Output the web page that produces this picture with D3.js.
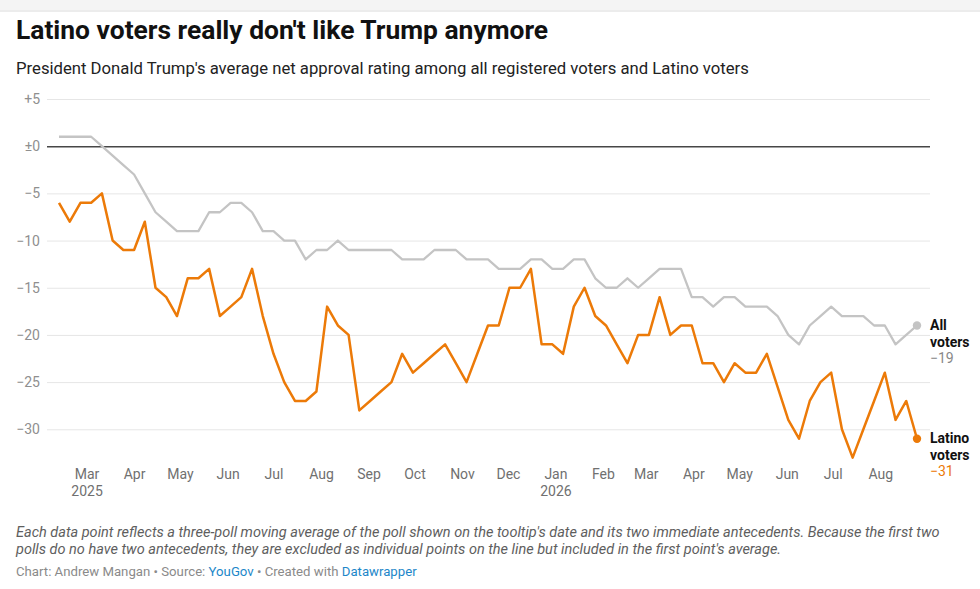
<!DOCTYPE html>
<html>
<head>
<meta charset="utf-8">
<script src="https://cdn.jsdelivr.net/npm/d3@7"></script>
<style>
    body { margin: 0; background: #fff; font-family: Roboto, "Noto Sans", sans-serif; }
</style>
</head>
<body>
<svg id="chart"></svg>
<script>
// Poll dates (weekly YouGov polls)
const pollDates = [
    "2025-02-11","2025-02-18","2025-02-25","2025-03-04","2025-03-11","2025-03-18","2025-03-25",
    "2025-04-01","2025-04-08","2025-04-15","2025-04-22","2025-04-29","2025-05-06","2025-05-13",
    "2025-05-20","2025-05-27","2025-06-03","2025-06-10","2025-06-17","2025-06-24","2025-07-01",
    "2025-07-08","2025-07-15","2025-07-22","2025-07-29","2025-08-05","2025-08-12","2025-08-19",
    "2025-08-26","2025-09-02","2025-09-09","2025-09-16","2025-09-23","2025-09-30","2025-10-07",
    "2025-10-14","2025-10-21","2025-10-28","2025-11-04","2025-11-11","2025-11-18","2025-11-25",
    "2025-12-02","2025-12-09","2025-12-16","2025-12-23","2025-12-30","2026-01-06","2026-01-13",
    "2026-01-20","2026-01-27","2026-02-03","2026-02-10","2026-02-17","2026-02-24","2026-03-03",
    "2026-03-10","2026-03-17","2026-03-24","2026-03-31","2026-04-07","2026-04-14","2026-04-21",
    "2026-04-28","2026-05-05","2026-05-12","2026-05-19","2026-05-26","2026-06-02","2026-06-09",
    "2026-06-16","2026-06-23","2026-06-30","2026-07-07","2026-07-14","2026-07-21","2026-07-28",
    "2026-08-04","2026-08-11","2026-08-18","2026-08-25"
];

const allVoters = [
    1, 1, 1, 1, 0, -1, -2, -3, -5, -7,
    -8, -9, -9, -9, -7, -7, -6, -6, -7, -9,
    -9, -10, -10, -12, -11, -11, -10, -11, -11, -11,
    -11, -11, -12, -12, -12, -11, -11, -11, -12, -12,
    -12, -13, -13, -13, -12, -12, -13, -13, -12, -12,
    -14, -15, -15, -14, -15, -14, -13, -13, -13, -16,
    -16, -17, -16, -16, -17, -17, -17, -18, -20, -21,
    -19, -18, -17, -18, -18, -18, -19, -19, -21, -20,
    -19
];

const latinoVoters = [
    -6, -8, -6, -6, -5, -10, -11, -11, -8, -15,
    -16, -18, -14, -14, -13, -18, -17, -16, -13, -18,
    -22, -25, -27, -27, -26, -17, -19, -20, -28, -27,
    -26, -25, -22, -24, -23, -22, -21, -23, -25, -22,
    -19, -19, -15, -15, -13, -21, -21, -22, -17, -15,
    -18, -19, -21, -23, -20, -20, -16, -20, -19, -19,
    -23, -23, -25, -23, -24, -24, -22, -25.5, -29, -31,
    -27, -25, -24, -30, -33, -30, -27, -24, -29, -27,
    -31
];

const yTicks = [5, 0, -5, -10, -15, -20, -25, -30];

const monthTicks = [
    "2025-03-01","2025-04-01","2025-05-01","2025-06-01","2025-07-01","2025-08-01",
    "2025-09-01","2025-10-01","2025-11-01","2025-12-01","2026-01-01","2026-02-01",
    "2026-03-01","2026-04-01","2026-05-01","2026-06-01","2026-07-01","2026-08-01"
];

const width = 980;
const height = 589;
const orange = "#ec7a08";
const grey = "#c4c4c4";

const parse = d3.utcParse("%Y-%m-%d");

const svg = d3.select("#chart")
    .attr("width", width)
    .attr("height", height)
    .style("display", "block");

// top shadow band
svg.append("rect")
    .attr("x", 0).attr("y", 0)
    .attr("width", width).attr("height", 11)
    .attr("fill", "#f4f4f4");
svg.append("rect")
    .attr("x", 0).attr("y", 10)
    .attr("width", width).attr("height", 2)
    .attr("fill", "#ececec");

// Title & subtitle
svg.append("text")
    .attr("x", 16).attr("y", 39)
    .attr("font-size", 26.4)
    .attr("font-weight", 700)
    .attr("fill", "#111")
    .text("Latino voters really don't like Trump anymore");

svg.append("text")
    .attr("x", 16).attr("y", 74)
    .attr("font-size", 16.7)
    .attr("fill", "#222")
    .text("President Donald Trump's average net approval rating among all registered voters and Latino voters");

// Scales
const dates = pollDates.map(parse);

const x = d3.scaleUtc()
    .domain(d3.extent(dates))
    .range([59, 917]);

const y = d3.scaleLinear()
    .domain([5, -30])
    .range([99, 429.3]);

const fmtY = v => v > 0 ? "+" + v : v === 0 ? "\u00b10" : "\u2212" + Math.abs(v);

// Y axis with gridlines
const yAxis = svg.append("g")
    .attr("transform", "translate(47,0)")
    .call(d3.axisLeft(y)
        .tickValues(yTicks)
        .tickSize(-883)
        .tickPadding(7)
        .tickFormat(fmtY));

yAxis.select(".domain").remove();
yAxis.selectAll(".tick line")
    .attr("stroke", d => d === 0 ? "#474747" : "#e6e6e6")
    .attr("stroke-width", d => d === 0 ? 1.4 : 1);
yAxis.selectAll(".tick text")
    .attr("font-family", "Roboto, sans-serif")
    .attr("font-size", 14)
    .attr("fill", "#8f8f8f");

// X axis
const xAxis = svg.append("g")
    .attr("transform", "translate(0,469)")
    .call(d3.axisBottom(x)
        .tickValues(monthTicks.map(parse))
        .tickSize(0)
        .tickPadding(0)
        .tickFormat(d3.utcFormat("%b")));

xAxis.select(".domain").remove();
xAxis.selectAll(".tick text")
    .attr("font-family", "Roboto, sans-serif")
    .attr("font-size", 14)
    .attr("fill", "#707070")
    .each(function(d, i) {
        if (i === 0 || d.getUTCMonth() === 0) {
            d3.select(this).append("tspan")
                .attr("x", 0)
                .attr("dy", "1.22em")
                .text(d.getUTCFullYear());
        }
    });

// Lines
const line = d3.line()
    .x((d, i) => x(dates[i]))
    .y(d => y(d));

svg.append("path")
    .datum(allVoters)
    .attr("fill", "none")
    .attr("stroke", grey)
    .attr("stroke-width", 2.3)
    .attr("stroke-linejoin", "round")
    .attr("d", line);

svg.append("path")
    .datum(latinoVoters)
    .attr("fill", "none")
    .attr("stroke", orange)
    .attr("stroke-width", 2.5)
    .attr("stroke-linejoin", "round")
    .attr("d", line);

const last = dates.length - 1;

svg.append("circle")
    .attr("cx", x(dates[last]))
    .attr("cy", y(allVoters[last]))
    .attr("r", 4.2)
    .attr("fill", grey);

svg.append("circle")
    .attr("cx", x(dates[last]))
    .attr("cy", y(latinoVoters[last]))
    .attr("r", 4.2)
    .attr("fill", orange);

// Line labels
function lineLabel(name1, name2, value, color, yBase) {
    const g = svg.append("g").attr("transform", `translate(930,${yBase})`);
    g.append("text").attr("font-size", 14).attr("font-weight", 700).attr("fill", "#111").text(name1);
    g.append("text").attr("y", 16.5).attr("font-size", 14).attr("font-weight", 700).attr("fill", "#111").text(name2);
    g.append("text").attr("y", 33).attr("font-size", 14).attr("fill", color).text(fmtY(value));
}

lineLabel("All", "voters", allVoters[last], "#888", 330);
lineLabel("Latino", "voters", latinoVoters[last], orange, 443);

// Notes & credits
const notes = [
    "Each data point reflects a three-poll moving average of the poll shown on the tooltip's date and its two immediate antecedents. Because the first two",
    "polls do no have two antecedents, they are excluded as individual points on the line but included in the first point's average."
];

svg.selectAll("text.note")
    .data(notes)
    .join("text")
    .attr("class", "note")
    .attr("x", 16)
    .attr("y", (d, i) => 537 + i * 17)
    .attr("font-size", 14.5)
    .attr("font-style", "italic")
    .attr("fill", "#5e5e5e")
    .text(d => d);

const credit = svg.append("text")
    .attr("x", 16).attr("y", 576)
    .attr("font-size", 13.2)
    .attr("fill", "#8a8a8a");
credit.append("tspan").text("Chart: Andrew Mangan \u2022 Source: ");
credit.append("tspan").attr("fill", "#1d87c9").text("YouGov");
credit.append("tspan").text(" \u2022 Created with ");
credit.append("tspan").attr("fill", "#1d87c9").text("Datawrapper");
</script>
</body>
</html>
